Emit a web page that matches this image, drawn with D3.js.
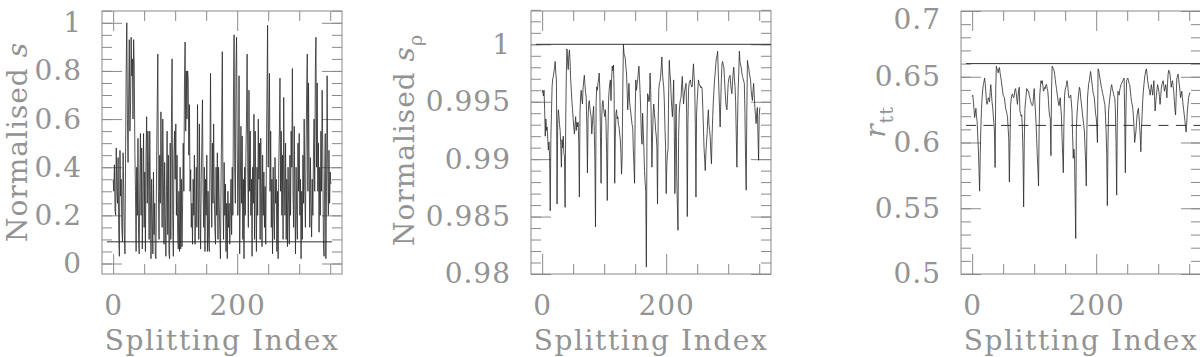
<!DOCTYPE html>
<html><head><meta charset="utf-8">
<script src="https://cdn.jsdelivr.net/npm/d3@7"></script>
<style>body{margin:0;background:#fff}svg{display:block}</style>
</head><body>
<svg id="c" width="1200" height="357"></svg>
<script>
// Panel 1: normalised s vs splitting index
const sNorm = [
.35,.30,.41,.22,.20,.48,.30,.25,.44,.12,
.03,.47,.28,.35,.15,.09,.46,.30,.12,.04,
.45,.80,1.0,.60,.42,.70,.93,.55,.65,.94,
.78,.85,.60,.93,.82,.46,.30,.05,.40,.20,
.52,.10,.04,.35,.54,.20,.48,.06,.30,.54,
.15,.38,.05,.45,.61,.25,.55,.40,.10,.55,
.30,.02,.35,.20,.04,.38,.12,.25,.03,.02,
.40,.65,.87,.30,.10,.45,.25,.63,.40,.15,
.60,.35,.08,.42,.20,.03,.30,.55,.12,.45,
.04,.02,.50,.10,.60,.85,.20,.03,.45,.55,
.35,.58,.20,.45,.12,.06,.30,.05,.40,.06,
.35,.07,.25,.50,.30,.75,.92,.55,.80,.60,
.80,.77,.45,.66,.30,.39,.15,.25,.08,.35,
.20,.45,.08,.20,.40,.15,.66,.30,.10,.58,
.25,.06,.35,.50,.68,.30,.15,.40,.05,.35,
.20,.45,.05,.30,.10,.05,.40,.79,.35,.15,
.50,.25,.58,.30,.15,.08,.40,.20,.46,.10,
.40,.25,.12,.02,.35,.60,.88,.30,.10,.42,
.20,.33,.05,.25,.02,.30,.15,.25,.08,.20,
.35,.12,.40,.20,.70,.95,.40,.25,.80,.94,
.50,.20,.35,.78,.04,.30,.57,.25,.53,.10,
.35,.02,.40,.20,.45,.60,.87,.40,.15,.72,
.30,.55,.20,.35,.03,.40,.25,.62,.10,.55,
.30,.05,.40,.20,.60,.35,.50,.10,.52,.30,
.07,.45,.20,.38,.15,.32,.08,.40,.70,.99,
.40,.60,.79,.30,.55,.15,.35,.04,.40,.20,
.10,.44,.25,.35,.05,.30,.02,.40,.55,.77,
.30,.55,.20,.45,.10,.69,.35,.20,.50,.10,
.35,.07,.40,.25,.08,.45,.20,.55,.40,.81,
.30,.15,.57,.25,.04,.40,.20,.10,.50,.30,
.54,.20,.35,.02,.30,.10,.45,.25,.60,.30,
.15,.45,.70,.87,.30,.75,.40,.15,.44,.25,
.11,.35,.20,.45,.60,.30,.80,.94,.40,.75,
.30,.50,.13,.40,.20,.55,.30,.72,.47,.10,
.03,.35,.54,.02,.30,.78,.40,.20,.47,.25,
.38,.33];

// Panel 2: normalised s_rho
const sRho = [
.9958,.9960,.9955,.9960,.9943,.9920,.9935,.9925,.9928,.9918,
.9908,.9915,.9902,.9855,.9917,.9940,.9963,.9970,.9972,.9976,
.9980,.9985,.9975,.9969,.9861,.9930,.9943,.9938,.9930,.9925,
.9912,.9893,.9917,.9910,.9920,.9905,.9902,.9858,.9935,.9975,
.9996,.9985,.9978,.9990,.9995,.9985,.9969,.9960,.9950,.9943,
.9935,.9928,.9922,.9930,.9937,.9925,.9932,.9928,.9932,.9915,
.9867,.9940,.9955,.9960,.9952,.9948,.9962,.9968,.9973,.9965,
.9958,.9954,.9930,.9888,.9935,.9948,.9951,.9945,.9940,.9937,
.9922,.9930,.9940,.9946,.9925,.9900,.9841,.9950,.9963,.9960,
.9966,.9970,.9975,.9960,.9920,.9879,.9935,.9948,.9951,.9945,
.9940,.9937,.9943,.9930,.9905,.9864,.9920,.9950,.9960,.9966,
.9969,.9951,.9970,.9981,.9977,.9982,.9960,.9879,.9920,.9940,
.9943,.9935,.9937,.9930,.9928,.9922,.9917,.9905,.9887,.9902,
.9960,1.0000,.9992,.9990,.9988,.9980,.9975,.9960,.9943,.9955,
.9966,.9950,.9945,.9940,.9935,.9930,.9928,.9908,.9895,.9879,
.9940,.9969,.9960,.9965,.9969,.9975,.9981,.9970,.9957,.9940,
.9920,.9913,.9940,.9925,.9910,.9890,.9880,.9873,.9806,.9920,
.9957,.9955,.9950,.9951,.9975,.9960,.9930,.9893,.9920,.9940,
.9948,.9940,.9934,.9925,.9920,.9911,.9861,.9930,.9960,.9966,
.9968,.9972,.9980,.9989,.9975,.9968,.9963,.9950,.9928,.9910,
.9870,.9895,.9905,.9908,.9960,.9986,.9975,.9969,.9955,.9945,
.9937,.9950,.9969,.9930,.9870,.9920,.9948,.9885,.9860,.9838,
.9920,.9940,.9948,.9952,.9954,.9965,.9972,.9958,.9948,.9955,
.9960,.9963,.9966,.9940,.9850,.9930,.9960,.9966,.9968,.9969,
.9965,.9963,.9963,.9975,.9983,.9972,.9963,.9930,.9867,.9940,
.9951,.9960,.9969,.9966,.9964,.9964,.9962,.9963,.9961,.9945,
.9928,.9910,.9900,.9890,.9905,.9915,.9922,.9935,.9943,.9930,
.9925,.9919,.9905,.9896,.9920,.9937,.9950,.9960,.9969,.9975,
.9983,.9988,.9990,.9994,.9975,.9960,.9945,.9928,.9950,.9970,
.9983,.9985,.9982,.9980,.9970,.9960,.9950,.9945,.9943,.9955,
.9966,.9970,.9972,.9973,.9965,.9960,.9957,.9968,.9975,.9980,
.9970,.9963,.9950,.9920,.9893,.9930,.9960,.9975,.9994,.9985,
.9982,.9980,.9975,.9972,.9970,.9968,.9966,.9940,.9900,.9873,
.9940,.9986,.9982,.9980,.9975,.9972,.9969,.9960,.9955,.9951,
.9960,.9966,.9955,.9945,.9938,.9931,.9940,.9945,.9920,.9899,
.9938,.9945];

// Panel 3: r_tt
const rtt = [
.635,.636,.631,.625,.619,.622,.626,.620,.616,.605,
.595,.580,.563,.590,.611,.625,.634,.640,.644,.646,
.649,.645,.639,.632,.629,.631,.634,.633,.631,.638,
.644,.638,.631,.627,.621,.615,.608,.581,.640,.658,
.656,.655,.653,.656,.657,.653,.650,.647,.643,.640,
.636,.635,.634,.630,.626,.624,.622,.619,.611,.603,
.570,.600,.629,.633,.636,.637,.635,.634,.636,.640,
.641,.638,.633,.629,.635,.640,.642,.624,.622,.620,
.621,.610,.590,.551,.600,.625,.631,.636,.641,.640,
.639,.639,.636,.634,.632,.630,.629,.628,.629,.635,
.641,.632,.624,.615,.603,.590,.580,.567,.610,.636,
.642,.647,.645,.647,.643,.639,.640,.642,.641,.644,
.644,.641,.639,.632,.624,.620,.618,.590,.640,.658,
.657,.656,.655,.652,.648,.644,.641,.637,.634,.630,
.628,.631,.634,.626,.620,.603,.590,.577,.615,.636,
.640,.642,.644,.647,.644,.638,.634,.634,.635,.636,
.630,.624,.605,.588,.595,.590,.560,.527,.610,.621,
.628,.634,.638,.642,.640,.634,.630,.626,.621,.617,
.613,.608,.596,.585,.567,.610,.634,.640,.645,.647,
.651,.654,.650,.646,.642,.638,.636,.634,.628,.622,
.619,.612,.600,.656,.655,.652,.649,.646,.643,.641,
.638,.636,.634,.631,.629,.620,.608,.590,.552,.600,
.624,.629,.634,.638,.642,.644,.641,.639,.637,.635,
.634,.624,.600,.560,.615,.639,.638,.636,.640,.642,
.644,.645,.646,.647,.648,.649,.620,.577,.625,.647,
.648,.649,.647,.645,.644,.640,.635,.631,.629,.626,
.620,.612,.600,.604,.608,.615,.621,.624,.626,.620,
.613,.605,.593,.610,.621,.632,.639,.644,.649,.652,
.655,.656,.652,.647,.644,.641,.639,.636,.640,.644,
.640,.636,.641,.647,.635,.624,.630,.636,.640,.644,
.642,.639,.635,.629,.635,.641,.644,.646,.647,.643,
.639,.641,.644,.640,.634,.645,.652,.655,.654,.652,
.647,.642,.645,.647,.643,.639,.632,.625,.621,.635,
.649,.650,.652,.648,.644,.640,.634,.636,.639,.634,
.629,.625,.621,.617,.612,.608,.615,.624,.629,.634,
.636,.638];

const xMajorTicks = [0, 200];
const xMinorTicks = [50, 100, 150, 250, 300, 350];
const xTickLabels = ["0", "200"];
const xTitle = "Splitting Index";

const y1Major = [0, 0.2, 0.4, 0.6, 0.8, 1];
const y1Labels = ["0", "0.2", "0.4", "0.6", "0.8", "1"];
const y2Major = [0.98, 0.985, 0.99, 0.995, 1];
const y2Labels = ["0.98", "0.985", "0.99", "0.995", "1"];
const y3Major = [0.5, 0.55, 0.6, 0.65, 0.7];
const y3Labels = ["0.5", "0.55", "0.6", "0.65", "0.7"];

const refLine1 = 0.09;
const refLine2 = 1.0;
const refLine3 = 0.66;
const refDash3 = 0.613;

const FONT = "DejaVu Serif";
const GREY = "#939393";
const AXIS_GREY = "#8a8a8a";
const FS = 28;
const svg = d3.select("#c");

const H = 263, W = 240, TOP = 11;
const panels = [
  {left:102, data:sNorm, domain:[-0.0436,1.049], major:y1Major, labels:y1Labels,
   minor: d3.range(-0.0, 1.0501, 0.05), title:[["Normalised ",""],["s","it"]],
   titleX: 27, titleY: 142, refs:[{v:refLine1, x1:353}]},
  {left:531, data:sRho, domain:[0.98,1.0029], major:y2Major, labels:y2Labels,
   minor: d3.range(0.98, 1.00301, 0.001), title:[["Normalised ",""],["s","it"],["ρ","sub"]],
   titleX: 414, titleY: 140, refs:[{v:refLine2}]},
  {left:961, data:rtt, domain:[0.5,0.7], major:y3Major, labels:y3Labels,
   minor: d3.range(0.5, 0.7001, 0.01), title:[["r","it"],["tt","sub"]],
   titleX: 885, titleY: 122, refs:[{v:refLine3},{v:refDash3, dash:true}]}
];

panels.forEach((p, pi) => {
  const g = svg.append("g").attr("transform", `translate(${p.left},${TOP})`);
  const x = d3.scaleLinear().domain([-18, 369]).range([0, W]);
  const y = d3.scaleLinear().domain(p.domain).range([H, 0]);

  const styleAxis = sel => {
    sel.select(".domain").remove();
    sel.selectAll("line").attr("stroke", AXIS_GREY).attr("stroke-width", 1);
    sel.selectAll("text").attr("fill", GREY).attr("font-family", FONT)
      .attr("font-size", FS).attr("letter-spacing", 1);
  };
  // y axes
  g.append("g").call(d3.axisLeft(y).tickValues(p.minor).tickSizeInner(-10).tickSizeOuter(0).tickFormat("")).call(styleAxis);
  const yl = g.append("g").call(d3.axisLeft(y).tickValues(p.major).tickSizeInner(-20).tickSizeOuter(0).tickPadding(20)
     .tickFormat((d,i)=>p.labels[i])).call(styleAxis);
  // keep a label sitting on the top edge inside the picture
  yl.selectAll(".tick").filter(d => y(d) + TOP < 14).select("text").attr("dy", "0.62em");
  g.append("g").attr("transform",`translate(${W},0)`).call(d3.axisRight(y).tickValues(p.minor).tickSizeInner(-10).tickSizeOuter(0).tickFormat("")).call(styleAxis);
  g.append("g").attr("transform",`translate(${W},0)`).call(d3.axisRight(y).tickValues(p.major).tickSizeInner(-20).tickSizeOuter(0).tickFormat("")).call(styleAxis);
  // x axes
  g.append("g").attr("transform",`translate(0,${H})`).call(d3.axisBottom(x).tickValues(xMinorTicks).tickSizeInner(-10).tickSizeOuter(0).tickFormat("")).call(styleAxis);
  g.append("g").attr("transform",`translate(0,${H})`).call(d3.axisBottom(x).tickValues(xMajorTicks).tickSizeInner(-20).tickSizeOuter(0).tickPadding(21)
     .tickFormat((d,i)=>xTickLabels[i])).call(styleAxis);
  g.append("g").call(d3.axisTop(x).tickValues(xMinorTicks).tickSizeInner(-10).tickSizeOuter(0).tickFormat("")).call(styleAxis);
  g.append("g").call(d3.axisTop(x).tickValues(xMajorTicks).tickSizeInner(-20).tickSizeOuter(0).tickFormat("")).call(styleAxis);

  g.append("rect").attr("x",0).attr("y",0).attr("width",W).attr("height",H)
    .attr("fill","none").attr("stroke",AXIS_GREY).attr("stroke-width",1);

  // reference lines
  p.refs.forEach(r => {
    g.append("line").attr("x1", x(-10)).attr("x2", r.x1 ? x(r.x1) : W)
      .attr("y1", y(r.v)).attr("y2", y(r.v))
      .attr("stroke", "#333").attr("stroke-width", 1)
      .attr("stroke-dasharray", r.dash ? "10,7.5" : null);
  });

  // data
  const line = d3.line().x((d,i)=>x(i)).y(d=>y(d));
  g.append("path").datum(p.data).attr("d", line)
    .attr("fill","none").attr("stroke","#2a2a2a").attr("stroke-width",0.8);

  // x title
  g.append("text").attr("x", W/2).attr("y", 350 - TOP).attr("text-anchor","middle")
    .attr("font-family",FONT).attr("font-size",FS).attr("letter-spacing",1.6)
    .attr("fill",GREY).text(xTitle);

  // y title
  const t = svg.append("text").attr("transform",`translate(${p.titleX},${p.titleY}) rotate(-90)`)
    .attr("text-anchor","middle").attr("font-family",FONT).attr("font-size",FS)
    .attr("letter-spacing",1).attr("fill",GREY);
  p.title.forEach(([s, k]) => {
    const ts = t.append("tspan").text(s);
    if (k === "it") ts.attr("font-style","italic");
    if (k === "sub") ts.attr("font-size",19).attr("dy", 8);
  });
});
</script>
</body></html>
